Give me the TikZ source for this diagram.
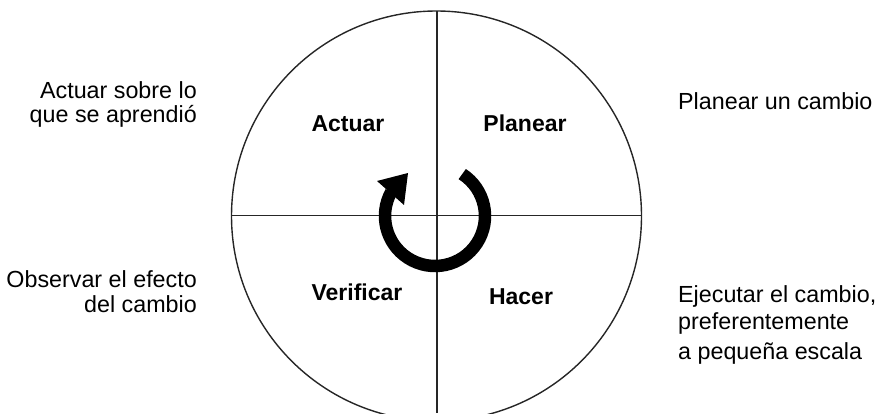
\documentclass[tikz,border=0pt]{standalone}
\usepackage{fontspec}
\setmainfont{Liberation Sans}
\tikzset{
  lbl/.style={inner sep=0pt, font=\fontsize{23.3}{27}\selectfont},
  qlbl/.style={inner sep=0pt, font=\fontsize{23}{27}\selectfont\bfseries},
  ring/.style={draw=black!85, line width=1.4pt},
}
\begin{document}
\begin{tikzpicture}[x=1pt,y=1pt]
\useasboundingbox (0,0) rectangle (881,413);
\begin{scope}
\clip (0,0) rectangle (881,413);
\draw[ring] (436.5,197) circle[radius=205];
\coordinate (vtop) at (437,402);
\coordinate (vbot) at (437,0);
\coordinate (hl) at (231.5,197.5);
\coordinate (hr) at (641.5,197.5);
\draw[ring] (vtop) -- (vbot);
\draw[ring] (hl) -- (hr);
\end{scope}
% cycle arrow
\draw[line width=12.5pt] (435,197) ++(57:50) arc[start angle=57, end angle=-209, radius=50];
\fill (377,232) -- (408,240) -- (404,208) -- cycle;
% quadrant labels
\node[qlbl, anchor=base] (actuar) at (348,281) {Actuar};
\node[qlbl, anchor=base] (planear) at (525,281) {Planear};
\node[qlbl, anchor=base] (verificar) at (357,113) {Verificar};
\node[qlbl, anchor=base] (hacer) at (521,109) {Hacer};
% side texts
\node[lbl, anchor=base east] (a1) at (197,314) {Actuar sobre lo};
\node[lbl, anchor=base east] (a2) at (197,290) {que se aprendió};
\node[lbl, anchor=base west] (p1) at (678,303) {Planear un cambio};
\node[lbl, anchor=base east] (o1) at (197,126) {Observar el efecto};
\node[lbl, anchor=base east] (o2) at (197,101) {del cambio};
\node[lbl, anchor=base west] (e1) at (678,111) {Ejecutar el cambio,};
\node[lbl, anchor=base west] (e2) at (678,84) {preferentemente};
\node[lbl, anchor=base west] (e3) at (678,54) {a pequeña escala};
\end{tikzpicture}
\end{document}
